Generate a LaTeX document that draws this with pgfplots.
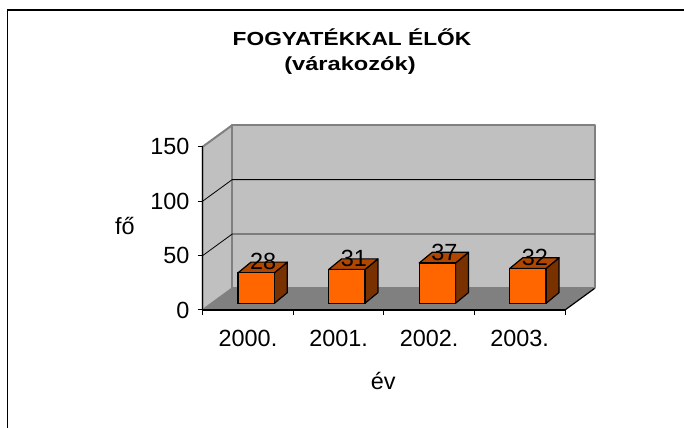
\documentclass[border=0pt]{standalone}
\usepackage{pgfplots}
\pgfplotsset{compat=1.18}
\usepackage{fontspec}
\setmainfont{Liberation Sans}
\definecolor{wallc}{HTML}{C0C0C0}
\definecolor{edgec}{HTML}{808080}
\definecolor{floorc}{HTML}{808080}
\definecolor{barfront}{HTML}{FF6600}
\definecolor{bartop}{HTML}{B04600}
\definecolor{barside}{HTML}{7A3100}
\begin{document}
\begin{tikzpicture}
\path[use as bounding box] (0,0) rectangle (684bp,428bp);
\fill[white] (0,0) rectangle (684bp,428bp);
\draw[line width=1.5bp] (7.5bp,0) -- (7.5bp,418bp) -- (684bp,418bp);

% background axis: walls, floor, grid, front axes
\begin{axis}[
  at={(202.7bp,118bp)}, anchor=south west,
  width=362.3bp, height=163.3bp, scale only axis,
  xmin=-0.5, xmax=3.5, ymin=0, ymax=150,
  clip=false, axis on top,
  axis lines*=left, axis line style={-, line width=1.2bp, black},
  xtick={0,1,2,3}, xticklabels={2000.,2001.,2002.,2003.},
  major x tick style={draw=none},
  minor xtick={-0.5,0.5,1.5,2.5,3.5},
  ytick={0,50,100,150},
  tick align=outside,
  major tick length=5bp, minor tick length=5bp,
  tick style={black, line width=1bp},
  tick label style={font=\fontsize{23.5}{28}\selectfont, inner sep=0pt},
  /pgf/number format/assume math mode=true,
  xticklabel style={anchor=north, yshift=-14.5bp},
  yticklabel style={anchor=east, xshift=-8bp},
]
\addplot[fill=wallc, draw=edgec, line width=2bp, line join=round] coordinates {(-0.5,0) (-0.1743,19.75) (-0.1743,169.75) (-0.5,150)} -- cycle;
\addplot[fill=wallc, draw=edgec, line width=2bp, line join=round] coordinates {(-0.1743,19.75) (3.8257,19.75) (3.8257,169.75) (-0.1743,169.75)} -- cycle;
\addplot[fill=floorc, draw=none] coordinates {(-0.5,0) (3.5,0) (3.8257,19.75) (-0.1743,19.75)} -- cycle;
\addplot[black, line width=1.2bp] coordinates {(3.5,0) (3.8257,19.75)};
\addplot[black, line width=0.8bp] coordinates {(-0.5,50) (-0.1743,69.75) (3.8257,69.75)};
\addplot[black, line width=0.8bp] coordinates {(-0.5,100) (-0.1743,119.75) (3.8257,119.75)};
\end{axis}

% bars axis: y=0 at bar bottom level
\begin{axis}[
  at={(202.7bp,118bp)}, anchor=south west,
  width=362.3bp, height=163.3bp, scale only axis,
  xmin=-0.5, xmax=3.5, ymin=-6.15, ymax=143.85,
  clip=false, hide axis,
  /pgf/number format/assume math mode=true,
]
% side faces
\addplot[fill=barside, draw=black, line width=1.2bp, line join=round] coordinates {(0.291,0) (0.4345,9.83) (0.4345,37.83) (0.291,28)} -- cycle;
\addplot[fill=barside, draw=black, line width=1.2bp, line join=round] coordinates {(1.291,0) (1.4345,9.83) (1.4345,40.83) (1.291,31)} -- cycle;
\addplot[fill=barside, draw=black, line width=1.2bp, line join=round] coordinates {(2.291,0) (2.4345,9.83) (2.4345,46.83) (2.291,37)} -- cycle;
\addplot[fill=barside, draw=black, line width=1.2bp, line join=round] coordinates {(3.291,0) (3.4345,9.83) (3.4345,41.83) (3.291,32)} -- cycle;
% top faces
\addplot[fill=bartop, draw=black, line width=1.2bp, line join=round] coordinates {(-0.11,28) (0.291,28) (0.4345,37.83) (0.0335,37.83)} -- cycle;
\addplot[fill=bartop, draw=black, line width=1.2bp, line join=round] coordinates {(0.89,31) (1.291,31) (1.4345,40.83) (1.0335,40.83)} -- cycle;
\addplot[fill=bartop, draw=black, line width=1.2bp, line join=round] coordinates {(1.89,37) (2.291,37) (2.4345,46.83) (2.0335,46.83)} -- cycle;
\addplot[fill=bartop, draw=black, line width=1.2bp, line join=round] coordinates {(2.89,32) (3.291,32) (3.4345,41.83) (3.0335,41.83)} -- cycle;
% front faces
\addplot[ybar, bar width=36.3bp, bar shift=8.2bp, fill=barfront, draw=black, line width=1.2bp]
  coordinates {(0,28) (1,31) (2,37) (3,32)};
% data labels
\addplot[draw=none, mark=none, nodes near coords, point meta=y,
  every node near coord/.append style={font=\fontsize{23.5}{28}\selectfont, inner sep=0pt, anchor=south, yshift=2.5bp, black}]
  coordinates {(0.168,28) (1.168,31) (2.168,37) (3.168,32)};
\end{axis}

\node[anchor=base, font=\bfseries\fontsize{19}{22}\selectfont] at (352bp,382.3bp) {\scalebox{1.2}[1]{FOGYATÉKKAL ÉLŐK}};
\node[anchor=base, font=\bfseries\fontsize{19}{22}\selectfont] at (350bp,357.5bp) {\scalebox{1.25}[1]{(várakozók)}};
\node[anchor=base, font=\fontsize{23.5}{28}\selectfont] at (125bp,193.7bp) {fő};
\node[anchor=base, font=\fontsize{23.5}{28}\selectfont] at (383.2bp,38.7bp) {év};
\end{tikzpicture}
\end{document}
